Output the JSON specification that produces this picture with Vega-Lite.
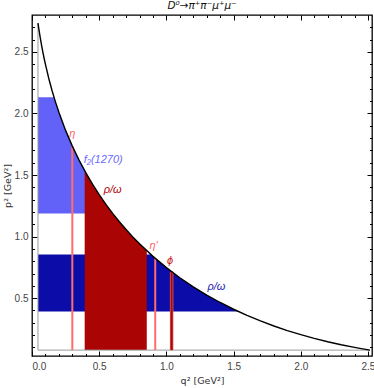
{
  "$schema": "https://vega.github.io/schema/vega-lite/v6.json",
  "width": 340,
  "height": 341,
  "autosize": {"type": "none"},
  "padding": {"left": 32, "top": 15, "right": 2, "bottom": 32},
  "background": "white",
  "title": {"text": "D⁰→π⁺π⁻μ⁺μ⁻", "font": "DejaVu Sans", "fontSize": 10.5, "fontStyle": "italic", "fontWeight": "normal", "color": "#111", "offset": 3, "anchor": "middle"},
  "config": {
    "view": {"stroke": "black", "strokeWidth": 1.3},
    "axis": {"domain": false, "grid": false, "tickColor": "black", "tickWidth": 1, "labelFont": "Liberation Sans", "labelFontSize": 10, "labelColor": "#444", "titleFont": "DejaVu Sans", "titleFontSize": 9.5, "titleFontWeight": "normal", "titleColor": "#333", "zindex": 1}
  },
  "datasets": {
    "curve": [
      {"q2": 0.0446, "p2": 2.7344}, {"q2": 0.05, "p2": 2.6935}, {"q2": 0.06, "p2": 2.6239}, {"q2": 0.07, "p2": 2.5607},
      {"q2": 0.08, "p2": 2.5026}, {"q2": 0.09, "p2": 2.4486}, {"q2": 0.1, "p2": 2.3981}, {"q2": 0.125, "p2": 2.2839},
      {"q2": 0.15, "p2": 2.183}, {"q2": 0.175, "p2": 2.0923}, {"q2": 0.2, "p2": 2.0096}, {"q2": 0.25, "p2": 1.8627},
      {"q2": 0.3, "p2": 1.7347}, {"q2": 0.35, "p2": 1.621}, {"q2": 0.4, "p2": 1.5195}, {"q2": 0.45, "p2": 1.4256},
      {"q2": 0.5, "p2": 1.3403}, {"q2": 0.55, "p2": 1.2615}, {"q2": 0.6, "p2": 1.1885}, {"q2": 0.65, "p2": 1.1206},
      {"q2": 0.7, "p2": 1.0571}, {"q2": 0.75, "p2": 0.9975}, {"q2": 0.8, "p2": 0.9416}, {"q2": 0.9, "p2": 0.8393},
      {"q2": 1.0, "p2": 0.7479}, {"q2": 1.1, "p2": 0.6658}, {"q2": 1.2, "p2": 0.5919}, {"q2": 1.3, "p2": 0.5251},
      {"q2": 1.4, "p2": 0.4646}, {"q2": 1.5, "p2": 0.4098}, {"q2": 1.6, "p2": 0.3599}, {"q2": 1.7, "p2": 0.3147},
      {"q2": 1.8, "p2": 0.2737}, {"q2": 1.9, "p2": 0.2366}, {"q2": 2.0, "p2": 0.203}, {"q2": 2.1, "p2": 0.1728},
      {"q2": 2.2, "p2": 0.1456}, {"q2": 2.3, "p2": 0.1213}, {"q2": 2.4, "p2": 0.0996}, {"q2": 2.45, "p2": 0.0897},
      {"q2": 2.515, "p2": 0.0778}
    ],
    "f2": [
      {"q2": 0.0446, "top": 2.132, "bottom": 1.188}, {"q2": 0.1639, "top": 2.132, "bottom": 1.188},
      {"q2": 0.175, "top": 2.0923, "bottom": 1.188}, {"q2": 0.2, "top": 2.0096, "bottom": 1.188},
      {"q2": 0.25, "top": 1.8627, "bottom": 1.188}, {"q2": 0.3, "top": 1.7347, "bottom": 1.188},
      {"q2": 0.35, "top": 1.621, "bottom": 1.188}, {"q2": 0.392, "top": 1.5344, "bottom": 1.188},
      {"q2": 0.45, "top": 1.4256, "bottom": 1.188}, {"q2": 0.5, "top": 1.3403, "bottom": 1.188},
      {"q2": 0.55, "top": 1.2615, "bottom": 1.188}, {"q2": 0.6, "top": 1.1885, "bottom": 1.188}
    ],
    "rhoP": [
      {"q2": 0.0446, "top": 0.854, "bottom": 0.392}, {"q2": 0.885, "top": 0.854, "bottom": 0.392},
      {"q2": 0.9, "top": 0.8393, "bottom": 0.392}, {"q2": 0.95, "top": 0.7923, "bottom": 0.392},
      {"q2": 1.0, "top": 0.7479, "bottom": 0.392}, {"q2": 1.05, "top": 0.7058, "bottom": 0.392},
      {"q2": 1.1, "top": 0.6658, "bottom": 0.392}, {"q2": 1.15, "top": 0.6279, "bottom": 0.392},
      {"q2": 1.2, "top": 0.5919, "bottom": 0.392}, {"q2": 1.25, "top": 0.5577, "bottom": 0.392},
      {"q2": 1.3, "top": 0.5251, "bottom": 0.392}, {"q2": 1.35, "top": 0.4941, "bottom": 0.392},
      {"q2": 1.4, "top": 0.4646, "bottom": 0.392}, {"q2": 1.45, "top": 0.4365, "bottom": 0.392},
      {"q2": 1.5346, "top": 0.392, "bottom": 0.392}
    ],
    "rhoQ": [
      {"q2": 0.392, "top": 1.5344, "bottom": 0.0778}, {"q2": 0.45, "top": 1.4256, "bottom": 0.0778},
      {"q2": 0.5, "top": 1.3403, "bottom": 0.0778}, {"q2": 0.55, "top": 1.2615, "bottom": 0.0778},
      {"q2": 0.6, "top": 1.1885, "bottom": 0.0778}, {"q2": 0.65, "top": 1.1206, "bottom": 0.0778},
      {"q2": 0.7, "top": 1.0571, "bottom": 0.0778}, {"q2": 0.75, "top": 0.9975, "bottom": 0.0778},
      {"q2": 0.8, "top": 0.9416, "bottom": 0.0778}, {"q2": 0.854, "top": 0.8849, "bottom": 0.0778}
    ],
    "edge": [
      {"o": 1, "q2": 0.0446, "p2": 2.7344}, {"o": 2, "q2": 0.0446, "p2": 0.0778}, {"o": 3, "q2": 2.515, "p2": 0.0778}
    ],
    "res": [
      {"name": "eta", "q2": 0.300, "top": 1.7347, "bottom": 0.0778},
      {"name": "etaprime", "q2": 0.917, "top": 0.823, "bottom": 0.0778}
    ],
    "phi": [
      {"name": "phi", "q2": 1.039, "top": 0.7149, "bottom": 0.0778}
    ],
    "labels": [
      {"label": "η", "q2": 0.299, "p2": 1.83},
      {"label": "f₂(1270)", "q2": 0.53, "p2": 1.62},
      {"label": "ρ/ω ", "q2": 0.60, "p2": 1.38},
      {"label": "η′", "q2": 0.905, "p2": 0.92},
      {"label": "ϕ", "q2": 1.027, "p2": 0.80},
      {"label": "ρ/ω", "q2": 1.372, "p2": 0.59}
    ]
  },
  "resolve": {"axis": {"x": "independent", "y": "independent"}},
  "layer": [
    {
      "data": {"name": "f2"},
      "mark": {"type": "area", "color": "#6262f8", "opacity": 1},
      "encoding": {
        "x": {"field": "q2", "type": "quantitative", "scale": {"domain": [0, 2.53], "nice": false, "zero": false},
              "axis": {"orient": "bottom", "values": [0, 0.5, 1, 1.5, 2, 2.5], "format": ".1f", "tickSize": -5, "labelPadding": 10, "title": "q² [GeV²]", "titlePadding": 4}},
        "y": {"field": "top", "type": "quantitative", "scale": {"domain": [0.03, 2.8], "nice": false, "zero": false},
              "axis": {"orient": "left", "values": [0.5, 1, 1.5, 2, 2.5], "format": ".1f", "tickSize": -5, "labelPadding": 9, "title": "p² [GeV²]", "titlePadding": 2}},
        "y2": {"field": "bottom"}
      }
    },
    {
      "data": {"name": "rhoP"},
      "mark": {"type": "area", "color": "#0c0ca8", "opacity": 1},
      "encoding": {
        "x": {"field": "q2", "type": "quantitative",
              "axis": {"orient": "bottom", "values": [0.1,0.2,0.3,0.4,0.6,0.7,0.8,0.9,1.1,1.2,1.3,1.4,1.6,1.7,1.8,1.9,2.1,2.2,2.3,2.4], "tickSize": -2.5, "labels": false, "title": null}},
        "y": {"field": "top", "type": "quantitative",
              "axis": {"orient": "left", "values": [0.1,0.2,0.3,0.4,0.6,0.7,0.8,0.9,1.1,1.2,1.3,1.4,1.6,1.7,1.8,1.9,2.1,2.2,2.3,2.4,2.6,2.7], "tickSize": -2.5, "labels": false, "title": null}},
        "y2": {"field": "bottom"}
      }
    },
    {
      "data": {"name": "rhoQ"},
      "mark": {"type": "area", "color": "#aa0404", "opacity": 1},
      "encoding": {
        "x": {"field": "q2", "type": "quantitative",
              "axis": {"orient": "top", "values": [0, 0.5, 1, 1.5, 2, 2.5], "tickSize": -5, "labels": false, "title": null}},
        "y": {"field": "top", "type": "quantitative",
              "axis": {"orient": "right", "values": [0.5, 1, 1.5, 2, 2.5], "tickSize": -5, "labels": false, "title": null}},
        "y2": {"field": "bottom"}
      }
    },
    {
      "data": {"name": "edge"},
      "mark": {"type": "line", "color": "#9a9a9a", "strokeWidth": 1},
      "encoding": {
        "x": {"field": "q2", "type": "quantitative",
              "axis": {"orient": "top", "values": [0.1,0.2,0.3,0.4,0.6,0.7,0.8,0.9,1.1,1.2,1.3,1.4,1.6,1.7,1.8,1.9,2.1,2.2,2.3,2.4], "tickSize": -2.5, "labels": false, "title": null}},
        "y": {"field": "p2", "type": "quantitative",
              "axis": {"orient": "right", "values": [0.1,0.2,0.3,0.4,0.6,0.7,0.8,0.9,1.1,1.2,1.3,1.4,1.6,1.7,1.8,1.9,2.1,2.2,2.3,2.4,2.6,2.7], "tickSize": -2.5, "labels": false, "title": null}},
        "order": {"field": "o", "type": "quantitative"}
      }
    },
    {
      "data": {"name": "res"},
      "mark": {"type": "rule", "color": "#ff6c6c", "strokeWidth": 2},
      "encoding": {
        "x": {"field": "q2", "type": "quantitative", "axis": null},
        "y": {"field": "top", "type": "quantitative", "axis": null},
        "y2": {"field": "bottom"}
      }
    },
    {
      "data": {"name": "phi"},
      "mark": {"type": "rule", "color": "#e06060", "strokeWidth": 3.5},
      "encoding": {
        "x": {"field": "q2", "type": "quantitative", "axis": null},
        "y": {"field": "top", "type": "quantitative", "axis": null},
        "y2": {"field": "bottom"}
      }
    },
    {
      "data": {"name": "phi"},
      "mark": {"type": "rule", "color": "#a80808", "strokeWidth": 2},
      "encoding": {
        "x": {"field": "q2", "type": "quantitative", "axis": null},
        "y": {"field": "top", "type": "quantitative", "axis": null},
        "y2": {"field": "bottom"}
      }
    },
    {
      "data": {"name": "curve"},
      "mark": {"type": "line", "color": "black", "strokeWidth": 1.4},
      "encoding": {
        "x": {"field": "q2", "type": "quantitative", "axis": null},
        "y": {"field": "p2", "type": "quantitative", "axis": null}
      }
    },
    {
      "data": {"name": "labels"},
      "mark": {"type": "text", "font": "Liberation Sans", "fontSize": 11, "fontStyle": "italic", "align": "center", "baseline": "middle"},
      "encoding": {
        "x": {"field": "q2", "type": "quantitative", "axis": null},
        "y": {"field": "p2", "type": "quantitative", "axis": null},
        "text": {"field": "label"},
        "color": {"field": "label", "type": "nominal", "legend": null,
                  "scale": {"domain": ["η", "f₂(1270)", "ρ/ω ", "η′", "ϕ", "ρ/ω"],
                            "range": ["#ff6464", "#6a6aff", "#b00000", "#ff6464", "#c81818", "#1c1cb0"]}}
      }
    }
  ]
}
